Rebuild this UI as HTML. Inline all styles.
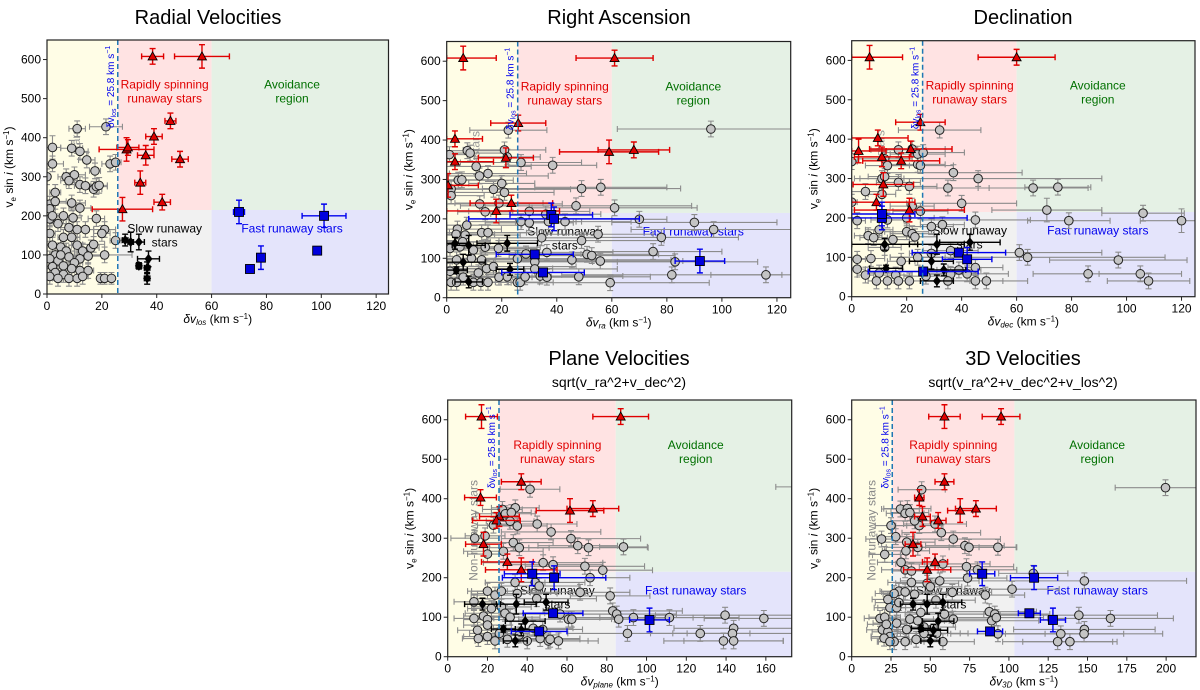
<!DOCTYPE html>
<html><head><meta charset="utf-8"><style>
body{margin:0;background:#fff;width:1200px;height:690px;overflow:hidden}
svg{display:block;font-family:"Liberation Sans","DejaVu Sans",sans-serif}
</style></head><body>
<svg id="fig" width="1200" height="690" viewBox="0 0 1200 690" xmlns="http://www.w3.org/2000/svg">
<text x="208" y="24" font-size="20" text-anchor="middle">Radial Velocities</text>
<text x="619" y="24" font-size="20" text-anchor="middle">Right Ascension</text>
<text x="1023" y="24" font-size="20" text-anchor="middle">Declination</text>
<text x="619" y="365" font-size="20" text-anchor="middle">Plane Velocities</text>
<text x="619" y="387" font-size="14" text-anchor="middle">sqrt(v_ra^2+v_dec^2)</text>
<text x="1023" y="365" font-size="20" text-anchor="middle">3D Velocities</text>
<text x="1023" y="387" font-size="14" text-anchor="middle">sqrt(v_ra^2+v_dec^2+v_los^2)</text>
</svg>
<script>
// ---------- data: [x, y, xerr, yerr] ----------
const p1Gray=[[11,423,3,20],[21.5,428,6,20],[2,375,3,30],[9,373,4,20],[12,365,3,20],[14.5,343,3,20],[2,333,4,20],[23,333,3,20],[25,337,2,20],[0,300,1,20],[7,300,3,20],[10,305,4,20],[17.5,315,2,20],[8,290,3,20],[12,280,5,20],[14,277,4,20],[17,268,3,20],[18,275,4,20],[19,278,3,20],[3,260,2,20],[1,230,2,20],[3,237,4,20],[9,233,5,20],[12,220,4,20],[1,218,2,20],[18,193,3,20],[6,200,3,20],[1,192,2,20],[4,180,3,20],[8,170,3,20],[11,165,2,20],[14,165,3,20],[21,165,4,20],[25,137,2,20],[20,155,3,20],[1,155,2,20],[6,145,2,20],[9,145,3,20],[2,125,2,20],[5,120,3,20],[11,125,2,20],[16,118,3,20],[17,127,4,20],[7,110,3,20],[3,100,3,20],[13,110,3,20],[21,100,10,20],[1,90,2,20],[8,95,3,20],[12,90,3,20],[15,97,5,20],[4,85,2,20],[10,80,3,20],[6,72,3,20],[2,70,2,20],[9,65,3,20],[12,60,2,20],[15,60,2,20],[3,55,2,20],[6,50,2,20],[1,45,1,20],[4,40,2,20],[8,40,2,20],[11,40,2,20],[13,45,2,20],[19.5,40,1,15],[21,40,1,15],[23.5,40,1,15],[5,100,4,20],[9.5,195,3,20],[2,200,2,20]];
const p1Red=[[38.5,608,4,20],[56.5,608,10,30],[45,443,2,20],[39,403,3,20],[29,370,10,30],[29.5,375,4,20],[36,355,3,25],[48.5,345,3,20],[34,285,2,30],[42,235,3,20],[27.5,217,11,30]];
const p1Black=[[28.5,138,1,15],[30.5,133,1,25],[33.5,133,2,20],[37,90,4,20],[33.5,72,1,8],[36.5,67,1,15],[36.5,40,1,15]];
const p1Blue=[[70,210,2,30],[101,200,8,30],[98.5,111,0,5],[78,93,0,30],[74,64,0,5]];

const p2Gray=[[22.4,425,14,20],[96,428,34,20],[1,363,8,20],[7.5,373,12,20],[8.5,367,14,20],[21,375,15,20],[22,357,12,20],[27,343,22,20],[38.5,336,16,20],[10.7,333,20,20],[11.9,309,25,20],[15,315,14,20],[4.2,298,20,20],[5.5,299,14,20],[1.6,276,18,20],[17,275,28,20],[20,290,12,20],[21,267,18,20],[49,277,36,20],[56,280,24,20],[1.6,259,12,20],[12,238,30,20],[19,240,16,20],[47,233,42,20],[61,228,30,20],[14,218,10,20],[30,219,22,20],[36,212,20,20],[27,193,20,20],[30,190,16,20],[43,193,24,20],[37,193,12,20],[70,199,10,20],[90,191,30,20],[97,173,30,20],[78,153,28,20],[55,161,20,20],[49,145,30,20],[34.5,152,20,20],[7.3,184,20,20],[3.9,174,16,20],[3.4,161,14,20],[6.7,159,20,20],[12.7,165,20,20],[15,165,14,20],[1.2,125,12,20],[4.8,129,16,20],[5.8,142,10,20],[9.7,121,20,20],[18.8,125,14,20],[14,128,20,20],[36.4,115,24,20],[28.8,111,20,20],[75,117,25,20],[51,110,26,20],[52.7,107,30,20],[25.7,99,30,20],[55.8,93,30,20],[83,91,30,20],[45.5,96,36,20],[9,100,20,20],[12.7,96,18,20],[32,91,30,20],[3.6,96,14,20],[14.5,74,24,20],[17,79,30,20],[11.5,63,22,20],[1.2,67,10,20],[6,52,18,20],[32,73,30,20],[34,55,30,20],[36.4,52,24,20],[48,53,26,20],[81.8,58,40,20],[116,58,20,20],[59.4,38,36,20],[1.6,39,6,20],[3.6,39,8,20],[9.7,39,10,20],[12.4,39,10,20],[15,39,10,20],[25.7,39,8,20],[26.7,39,12,20],[22,53,16,20],[28.5,53,18,20],[19,52,12,20]];
const p2Red=[[6,608,12,30],[61,608,14,20],[26,443,10,20],[3,403,10,20],[59,370,18,30],[68,375,13,20],[21.5,355,10,25],[3,345,14,20],[0.5,285,11,30],[23.5,240,15,20],[18,220,23,30]];
const p2Black=[[3,138,5,15],[8,133,6,25],[22,138,11,20],[6,90,8,20],[3.5,70,4,8],[23,72,5,15],[8,40,5,15]];
const p2Blue=[[38,210,15,30],[39,200,31,30],[32,110,14,5],[92,93,9,30],[35,64,15,5]];

const p3Gray=[[32,423,15,20],[17,373,10,20],[22,375,12,20],[24,362,10,20],[26,366,15,20],[0,343,2,20],[12,350,10,20],[13,333,8,20],[24,336,10,20],[25,333,12,20],[37,315,25,20],[46,300,45,20],[11,300,8,20],[12,305,6,20],[17,290,8,20],[35,276,15,20],[66,276,20,20],[75,278,12,20],[5,267,5,20],[21,280,10,20],[11,260,5,20],[40,237,20,20],[22,230,8,20],[0,240,2,20],[71,220,20,30],[106,212,15,20],[25,217,10,20],[45,195,20,20],[79,193,15,20],[120,193,15,30],[2,193,3,20],[33,183,8,20],[20,200,10,20],[29,178,8,20],[13,195,6,20],[10,170,5,20],[20,165,8,20],[22,160,8,20],[6,155,5,20],[8,150,5,20],[15,145,6,20],[23,152,8,20],[36,117,10,20],[61,112,30,20],[64,100,50,20],[97,93,25,20],[2,95,3,20],[7,97,5,20],[12,125,6,20],[18,90,5,20],[24,100,10,20],[29,110,8,20],[2,70,3,20],[5,55,3,20],[10,60,5,20],[16,55,6,20],[27,52,8,20],[36,57,10,20],[42,58,15,20],[45,74,10,20],[86,58,20,20],[105,58,15,20],[108,40,15,20],[49,40,15,20],[45,40,10,20],[9,40,3,20],[13,40,4,20],[17,40,4,20],[21,40,5,20],[35,40,8,20],[39,68,8,20]];
const p3Red=[[6.5,608,12,30],[60,608,14,20],[25,443,9,20],[9.5,403,11,20],[2.5,370,10,30],[21.5,375,15,20],[11,355,10,25],[18,345,14,20],[11.5,285,11,30],[9,240,14,20],[21,220,20,30]];
const p3Black=[[12,133,12,15],[31,133,10,25],[43,138,11,20],[29,90,8,20],[12.5,72,6,8],[33.5,68,8,15],[31,40,6,15]];
const p3Blue=[[11,200,31,30],[11,210,12,30],[39,112,17,5],[42,95,9,30],[26,64,20,5]];

const p4Gray=[[41.4,424,15,20],[185,430,20,20],[27.5,373,10,20],[34,377,12,20],[29,362,15,20],[32,365,10,20],[31.4,343,12,20],[35,331,15,20],[45,336,20,20],[52,316,25,20],[62,299,35,20],[65.4,281,20,20],[70.8,276,30,20],[88.4,278,12,20],[13.6,300,12,20],[18.8,306,10,20],[23,333,8,20],[33,289,20,20],[36,276,15,20],[20,260,10,20],[28,267,20,20],[48,238,30,20],[53,233,25,20],[69,229,30,20],[78,219,25,20],[71.6,200,20,20],[33.9,188,15,20],[44,188,25,20],[46,179,20,20],[20,166,10,20],[23.8,156,12,20],[27,166,15,20],[35,160,20,20],[81.7,154,20,20],[66.6,163,25,20],[44.8,147,30,20],[13.2,139,10,20],[22,122,12,20],[27,126,15,20],[28.8,110,20,20],[31.4,100,15,20],[56.5,108,30,20],[60.7,95,25,20],[62.4,95,20,20],[83,116,35,20],[85,108,30,20],[86,95,25,20],[93.4,99,30,20],[111.5,99,35,20],[139.5,105,35,20],[159,97,30,20],[143.8,72,30,20],[143.2,59,30,20],[127,59,25,20],[90.4,59,30,20],[138.7,40,30,20],[143.8,40,25,20],[13.2,97,10,20],[18,103,10,20],[20,94,12,20],[20,80,12,20],[15,67,10,20],[15.4,46,8,20],[20,51,12,20],[23.8,40,10,20],[26,59,15,20],[30,44,15,20],[36,55,20,20],[40,40,15,20],[46.5,46,20,20],[50.6,40,20,20],[55.7,40,20,20],[43,72,20,20],[47.8,69,20,20],[51.5,44,15,20]];
const p4Red=[[17,608,8,30],[87,608,14,20],[37,443,10,20],[16.5,403,8,20],[61.5,370,17,30],[73,375,13,20],[26,355,10,25],[24.5,345,12,20],[18,285,9,30],[30,240,13,20],[37,220,18,30]];
const p4Black=[[17.5,133,9,15],[34.5,133,10,25],[49.5,138,11,20],[39,90,10,20],[28,70,6,8],[37,68,9,15],[34,40,6,15]];
const p4Blue=[[42.5,210,14,30],[53.5,200,26,30],[53,110,15,5],[101.5,93,10,30],[46,64,14,5]];

const p5Gray=[[199.6,428,32,20],[44.5,423,15,20],[31,374,12,20],[35.4,375,15,20],[34,363,12,20],[37,365,12,20],[25,332,10,20],[28,304,12,20],[43,332,15,20],[40,344,15,20],[53,336,20,20],[57,314,25,20],[64.6,298,30,20],[72,281,25,20],[74.6,277,30,20],[93,277,12,20],[19,298,10,20],[21,259,10,20],[35,290,18,20],[42,277,20,20],[34.5,268,15,20],[31.4,239,15,20],[34,220,15,20],[38,217,12,20],[58,235,30,20],[73,228,30,20],[80,220,25,20],[73.7,199,25,20],[56,192,25,20],[48,186,20,20],[50,177,20,20],[38,188,15,20],[30,166,12,20],[27,160,12,20],[34,164,15,20],[40,158,20,20],[64,163,25,20],[85,156,25,20],[102,171,30,20],[115.5,211,22,20],[148,192,65,20],[23,145,10,20],[24.3,124,10,20],[28.6,124,12,20],[30,137,15,20],[53.6,143,25,20],[44,112,20,20],[59,108,25,20],[64.6,95,25,20],[87.5,114,30,20],[91,108,35,20],[89,91,30,20],[92,99,30,20],[144.5,105,50,20],[164.6,97,40,20],[148,69,45,20],[147.8,58,50,20],[133,58,40,20],[93,58,30,20],[131,38,35,20],[138.8,38,30,20],[58,38,20,20],[18,97,10,20],[21,100,10,20],[19.5,68,10,20],[23,63,10,20],[22,82,12,20],[28.6,85,15,20],[37,95,15,20],[42,91,20,20],[46,75,20,20],[49,59,20,20],[54,59,20,20],[35,69,15,20],[24.3,51,12,20],[27,38,10,20],[34,38,12,20],[41,44,15,20],[46,59,15,20],[20.6,47,8,20],[24.3,38,8,20]];
const p5Red=[[59,608,10,30],[95,608,12,20],[59,443,6,20],[43,403,3,20],[69,370,8,30],[79,375,13,20],[45,355,5,25],[55,345,5,20],[39,285,5,30],[53,240,8,20],[48,220,15,30]];
const p5Black=[[39,133,8,15],[48,133,10,25],[58,138,12,20],[55,90,10,20],[44,72,6,8],[52,67,9,15],[50,40,6,15]];
const p5Blue=[[83,210,8,30],[116,200,15,30],[113,110,7,5],[128,93,8,30],[88,64,8,5]];

const xTicks13=[0,20,40,60,80,100,120];
const xTicks4=[0,20,40,60,80,100,120,140,160];
const xTicks5=[0,25,50,75,100,125,150,175,200];
const yTicks=[0,100,200,300,400,500,600];
const vLine=25.8, hLine=215;

const panels=[
 {id:'radial',L:47,R:388.5,T:40,B:294,xmax:124.5,bound:60,sub:'los',ticks:xTicks13,g:p1Gray,r:p1Red,k:p1Black,b:p1Blue},
 {id:'ra',L:446.7,R:790.7,T:41.5,B:297.7,xmax:125,bound:60,sub:'ra',ticks:xTicks13,g:p2Gray,r:p2Red,k:p2Black,b:p2Blue},
 {id:'dec',L:851.7,R:1195,T:40.7,B:296.7,xmax:124.9,bound:60,sub:'dec',ticks:xTicks13,g:p3Gray,r:p3Red,k:p3Black,b:p3Blue},
 {id:'plane',L:447.7,R:791.7,T:400,B:656.7,xmax:173,bound:84.5,sub:'plane',ticks:xTicks4,g:p4Gray,r:p4Red,k:p4Black,b:p4Blue,nonrun:true},
 {id:'3d',L:851.7,R:1196,T:400,B:656.7,xmax:219,bound:103.5,sub:'3D',ticks:xTicks5,g:p5Gray,r:p5Red,k:p5Black,b:p5Blue,nonrun:true}
];
const NS='http://www.w3.org/2000/svg';
const svg=document.getElementById('fig');
function mk(tag,attrs,parent,txt){const e=document.createElementNS(NS,tag);for(const k in attrs)e.setAttribute(k,attrs[k]);if(txt!==undefined)e.textContent=txt;(parent||svg).appendChild(e);return e;}

panels.forEach((p,pi)=>{
 const X=v=>p.L+(v/p.xmax)*(p.R-p.L);
 const Y=v=>p.B-(v/650)*(p.B-p.T);
 const g=mk('g',{});
 
 
 const cp=mk('clipPath',{id:'cp'+pi},g);
 mk('rect',{x:p.L,y:p.T,width:p.R-p.L,height:p.B-p.T},cp);
 const regions=[
  ['region-nonrunaway',0,vLine,0,650,'#fffde6'],
  ['region-rapid',vLine,p.bound,hLine,650,'#ffe3e3'],
  ['region-avoidance',p.bound,p.xmax,hLine,650,'#e5f1e5'],
  ['region-slow',vLine,p.bound,0,hLine,'#f1f1f1'],
  ['region-fast',p.bound,p.xmax,0,hLine,'#e4e4fb']];
 regions.forEach(r=>{
  const e=mk('rect',{x:X(r[1]),y:Y(r[4]),width:X(r[2])-X(r[1]),height:Y(r[3])-Y(r[4]),fill:r[5]},g);
  
  
 });
 const rx=(X(vLine)+X(p.bound))/2, gx=(X(p.bound)+p.R)/2-8;
 function lbl(name,x,y,lines,col){const t=mk('text',{x:x,y:y,'font-size':12,'text-anchor':'middle',fill:col},g);lines.forEach((l,i)=>mk('tspan',{x:x,dy:i?14:0},t,l));}
 lbl('label-rapid',rx,Y(536)+4,['Rapidly spinning','runaway stars'],'#e00000');
 lbl('label-avoidance',gx,Y(536)+4,['Avoidance','region'],'#007000');
 lbl('label-slow',rx,Y(168)+4,['Slow runaway','stars'],'#000');
 lbl('label-fast',gx,Y(168)+4,['Fast runaway stars'],'#0000ee');
 const cy=Y(320);
 if(p.nonrun){const t=mk('text',{x:X(15),y:cy,'font-size':12,'text-anchor':'middle',fill:'#888',transform:`rotate(-90 ${X(15)} ${cy})`},g,'Non-runaway stars');}
 else {const xx=X(12),yy=Y(390);const t=mk('text',{x:xx,y:yy,'font-size':12,'text-anchor':'middle',fill:'#999',transform:`rotate(-90 ${xx} ${yy})`},g,'stars');}
 const pts=mk('g',{'clip-path':`url(#cp${pi})`},g);
 function eb(d,col,w){const x=X(d[0]),y=Y(d[1]),x1=X(Math.max(0,d[0]-d[2])),x2=X(d[0]+d[2]),y1=Y(d[1]-d[3]),y2=Y(d[1]+d[3]);
  mk('path',{d:`M${x1} ${y}H${x2}M${x} ${y1}V${y2}M${x1} ${y-3}v6M${x2} ${y-3}v6M${x-3} ${y1}h6M${x-3} ${y2}h6`,stroke:col,'stroke-width':w,fill:'none'},pts);}
 p.g.forEach(d=>eb(d,'#8c8c8c',1.1));
 p.g.forEach(d=>{const c=mk('circle',{cx:X(d[0]),cy:Y(d[1]),r:4.3,fill:'#c4c4c4',stroke:'#222','stroke-width':1},pts);
  
  });
 p.r.forEach(d=>eb(d,'#e00000',1.4));
 p.r.forEach(d=>{const x=X(d[0]),y=Y(d[1]);const e=mk('path',{d:`M${x} ${y-4.5}L${x+4.5} ${y+3.5}L${x-4.5} ${y+3.5}Z`,fill:'#e00000',stroke:'#000','stroke-width':0.9},pts);
  
  });
 p.k.forEach(d=>eb(d,'#000',1.4));
 p.k.forEach(d=>{const x=X(d[0]),y=Y(d[1]);const e=mk('path',{d:`M${x} ${y-5}L${x+4} ${y}L${x} ${y+5}L${x-4} ${y}Z`,fill:'#000'},pts);
  
  });
 p.b.forEach(d=>eb(d,'#0000ee',1.4));
 p.b.forEach(d=>{const x=X(d[0]),y=Y(d[1]);const e=mk('rect',{x:x-4.5,y:y-4.5,width:9,height:9,fill:'#0000dd',stroke:'#000','stroke-width':0.9},pts);
  
  });
 const dl=mk('line',{x1:X(vLine),x2:X(vLine),y1:p.T,y2:p.B,stroke:'#1f77b4','stroke-width':1.5,'stroke-dasharray':'5,3'},g);
 
 
 const tx=X(vLine)-4,ty=Y(530);
 const tt=mk('text',{x:tx,y:ty,'font-size':10,'text-anchor':'middle',fill:'#0000ee',transform:`rotate(-90 ${tx} ${ty})`},g);
 
 
 mk('tspan',{},tt,'δv');mk('tspan',{'font-size':7,dy:2},tt,'los');mk('tspan',{dy:-2},tt,' = 25.8 km s');mk('tspan',{'font-size':7,dy:-4},tt,'−1');
 const fr=mk('rect',{x:p.L,y:p.T,width:p.R-p.L,height:p.B-p.T,fill:'none',stroke:'#222','stroke-width':1.2},g);
 
 
 p.ticks.forEach(v=>{const x=X(v);mk('line',{x1:x,x2:x,y1:p.B,y2:p.B+4,stroke:'#222'},g);
  const t=mk('text',{x:x,y:p.B+16,'font-size':12,'text-anchor':'middle'},g,String(v));
  
  });
 yTicks.forEach(v=>{const y=Y(v);mk('line',{x1:p.L-4,x2:p.L,y1:y,y2:y,stroke:'#222'},g);
  const t=mk('text',{x:p.L-6,y:y+4,'font-size':12,'text-anchor':'end'},g,String(v));
  
  });
 const xl=mk('text',{x:(p.L+p.R)/2,y:p.B+29,'font-size':12,'text-anchor':'middle'},g);
 
 
 mk('tspan',{'font-style':'italic'},xl,'δv');mk('tspan',{'font-size':8,dy:2,'font-style':'italic'},xl,p.sub);mk('tspan',{dy:-2},xl,' (km s');mk('tspan',{'font-size':8,dy:-4},xl,'−1');mk('tspan',{dy:4},xl,')');
 const lx=p.L-34,ly=(p.T+p.B)/2;
 const yl=mk('text',{x:lx,y:ly,'font-size':12,'text-anchor':'middle',transform:`rotate(-90 ${lx} ${ly})`},g);
 
 
 mk('tspan',{},yl,'v');mk('tspan',{'font-size':8,dy:3},yl,'e');mk('tspan',{dy:-3},yl,' sin ');mk('tspan',{'font-style':'italic'},yl,'i');mk('tspan',{},yl,' (km s');mk('tspan',{'font-size':8,dy:-4},yl,'−1');mk('tspan',{dy:4},yl,')');
});
</script>
</body></html>
